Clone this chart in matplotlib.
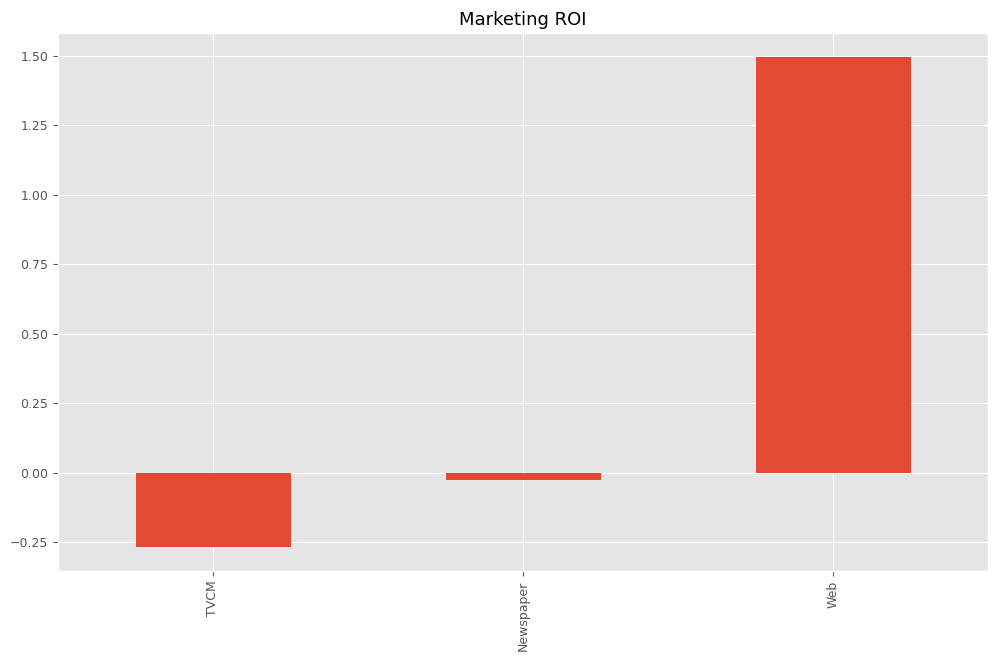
import pandas as pd
import matplotlib
matplotlib.use('Agg')
import matplotlib.pyplot as plt

plt.style.use('ggplot')
plt.rcParams['font.size'] = 9

channels = ['TVCM', 'Newspaper', 'Web']
roi = [-0.266, -0.025, 1.493]

s = pd.Series(roi, index=channels)

fig = plt.figure(figsize=(9.98, 6.61), dpi=100)
ax = fig.add_axes([58 / 998, 90 / 661, 930 / 998, 538 / 661])
s.plot(kind='bar', ax=ax)
ax.set_title('Marketing ROI')

fig.savefig('out.png', dpi=100)
